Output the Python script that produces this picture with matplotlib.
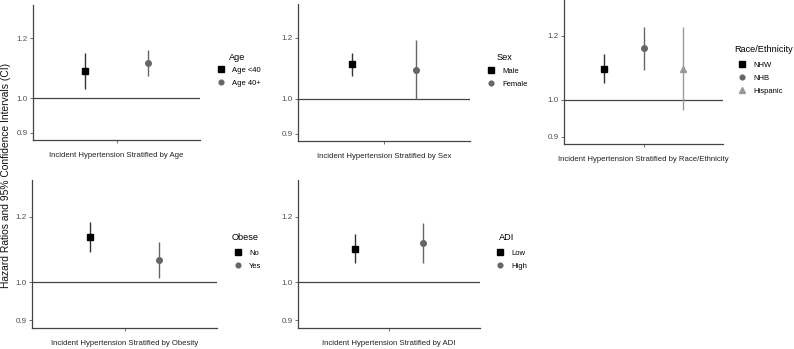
import numpy as np
import matplotlib
matplotlib.use("Agg")
import matplotlib.pyplot as plt
from matplotlib.lines import Line2D

plt.rcParams["font.family"] = ["Liberation Sans", "DejaVu Sans"]

# hazard ratios with 95% CI
age_groups = ["Age <40", "Age 40+"]
age_hr = [1.086, 1.115]
age_lo = [1.028, 1.071]
age_hi = [1.147, 1.159]

sex_groups = ["Male", "Female"]
sex_hr = [1.109, 1.091]
sex_lo = [1.071, 1.000]
sex_hi = [1.147, 1.192]

race_groups = ["NHW", "NHB", "Hispanic"]
race_hr = [1.092, 1.157, 1.092]
race_lo = [1.049, 1.089, 0.970]
race_hi = [1.139, 1.231, 1.229]

obese_groups = ["No", "Yes"]
obese_hr = [1.133, 1.063]
obese_lo = [1.088, 1.013]
obese_hi = [1.181, 1.118]

adi_groups = ["Low", "High"]
adi_hr = [1.098, 1.114]
adi_lo = [1.055, 1.054]
adi_hi = [1.142, 1.178]

W, H = 794, 349
fig = plt.figure(figsize=(W / 100, H / 100), dpi=100)
fig.patch.set_facecolor("white")

markers = ["s", "o", "^"]
mcolors = ["#000000", "#666666", "#999999"]
lcolors = ["#333333", "#666666", "#999999"]
msizes = [4.6, 4.0, 4.6]


def px_axes(left, right, top, bottom):
    return fig.add_axes([left / W, 1 - bottom / H, (right - left) / W, (bottom - top) / H])


def panel(box, groups, hr, lo, hi, xtitle, legtitle, title_xy, leg_xy):
    ax = px_axes(*box)
    n = len(groups)
    offs = np.array([-0.225, 0.225]) if n == 2 else np.array([-0.3, 0.0, 0.3])
    handles = []
    for i in range(n):
        x = 1 + offs[i]
        ax.plot([x, x], [lo[i], hi[i]], color=lcolors[i], lw=1.0, solid_capstyle="butt", zorder=2)
        ax.plot([x], [hr[i]], marker=markers[i], color=mcolors[i], ms=msizes[i], ls="none", zorder=3)
        handles.append(Line2D([], [], marker=markers[i], color=mcolors[i], ms=msizes[i] - 0.6, ls="none"))
    ax.axhline(1.0, color="#444444", lw=0.9, zorder=1)
    ax.set_yscale("log")
    ax.set_ylim(0.881, 1.328)
    ax.set_xlim(0.4, 1.6)
    ax.set_yticks([0.9, 1.0, 1.2])
    ax.set_yticklabels(["0.9", "1.0", "1.2"])
    ax.yaxis.set_minor_locator(matplotlib.ticker.NullLocator())
    ax.set_xticks([1])
    ax.set_xticklabels([""])
    ax.tick_params(axis="both", length=2.2, width=0.6, color="#555555", labelsize=5.8,
                   labelcolor="#4d4d4d", pad=1.5)
    for s in ["top", "right"]:
        ax.spines[s].set_visible(False)
    for s in ["left", "bottom"]:
        ax.spines[s].set_color("#444444")
        ax.spines[s].set_linewidth(0.9)
    ax.annotate(xtitle, xy=(0.5, 0), xycoords="axes fraction", xytext=(0, -11.2),
                textcoords="offset points", ha="center", va="center", fontsize=5.55, color="#222222")
    fig.text(title_xy[0] / W, 1 - title_xy[1] / H, legtitle, fontsize=6.6, ha="left", va="center")
    fig.legend(handles, groups, loc="upper left",
               bbox_to_anchor=(leg_xy[0] / W, 1 - leg_xy[1] / H), bbox_transform=fig.transFigure,
               frameon=False, fontsize=5.5, handlelength=1.0, handletextpad=1.0,
               labelspacing=0.75, borderpad=0, borderaxespad=0)
    return ax


panel((33, 200, 5, 140), age_groups, age_hr, age_lo, age_hi,
      "Incident Hypertension Stratified by Age", "Age", (229, 57), (217, 66.5))
panel((298, 470, 4, 141), sex_groups, sex_hr, sex_lo, sex_hi,
      "Incident Hypertension Stratified by Sex", "Sex", (497, 57), (487, 67.5))
panel((564, 723, 0, 144), race_groups, race_hr, race_lo, race_hi,
      "Incident Hypertension Stratified by Race/Ethnicity", "Race/Ethnicity", (734, 50), (738, 61.5))
panel((32, 217, 180, 328), obese_groups, obese_hr, obese_lo, obese_hi,
      "Incident Hypertension Stratified by Obesity", "Obese", (232, 237), (234, 249.5))
panel((298, 480, 180, 328), adi_groups, adi_hr, adi_lo, adi_hi,
      "Incident Hypertension Stratified by ADI", "ADI", (499, 237), (496, 249.5))

fig.text(6 / W, 1 - 175 / H, "Hazard Ratios and 95% Confidence Intervals (CI)", rotation=90,
         fontsize=7.35, ha="center", va="center", color="#111111")

fig.savefig("out.png", dpi=100)
